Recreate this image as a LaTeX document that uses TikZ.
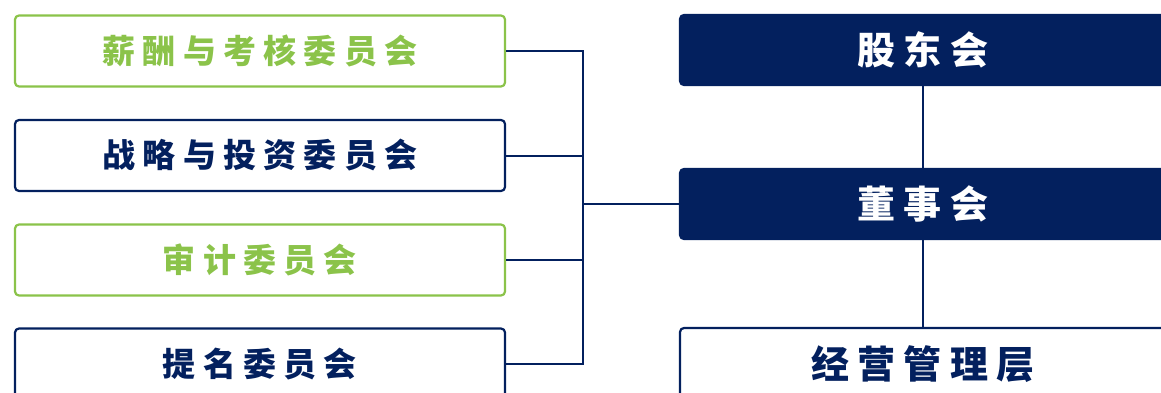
\documentclass[tikz,border=0pt]{standalone}
\usepackage{fontspec}
\newfontfamily\cjk[LetterSpace=22]{Noto Sans CJK SC}
\definecolor{navy}{HTML}{03205E}
\definecolor{leaf}{HTML}{8BC34A}
\tikzset{
  unit/.style={draw=navy, line width=2.2pt, rounded corners=4pt, minimum width=490pt, minimum height=71pt, inner sep=0pt, text=navy, font=\cjk\bfseries\fontsize{33}{33}\selectfont},
  green unit/.style={unit, draw=leaf, text=leaf},
  board/.style={unit, fill=navy, text=white, minimum width=486pt, minimum height=70pt, font=\cjk\bfseries\fontsize{38}{38}\selectfont},
  link/.style={draw=navy, line width=2pt}
}
\begin{document}
\begin{tikzpicture}[x=1pt, y=-1pt]
        \useasboundingbox (0, 0) rectangle (1161, 393);
        \node[green unit] (c1) at (260, 51) {薪酬与考核委员会};
        \node[unit] (c2) at (260, 155.5) {战略与投资委员会};
        \node[green unit] (c3) at (260, 260) {审计委员会};
        \node[unit] (c4) at (260, 364) {提名委员会};
        \node[board] (gd) at (923, 50) {股东会};
        \node[board] (dsh) at (923, 204) {董事会};
        \node[unit, minimum width=486pt, minimum height=72pt, font=\cjk\bfseries\fontsize{38}{38}\selectfont] (jy) at (923, 364) {经营管理层};
        \coordinate (j) at (583, 204);
        \draw[link] (c1.east) -| (j);
        \draw[link] (c2.east) -| (j);
        \draw[link] (c3.east) -| (j);
        \draw[link] (c4.east) -| (j);
        \draw[link] (j) -- (dsh.west);
        \draw[link] (gd) -- (dsh);
        \draw[link] (dsh) -- (jy);
\end{tikzpicture}
\end{document}
